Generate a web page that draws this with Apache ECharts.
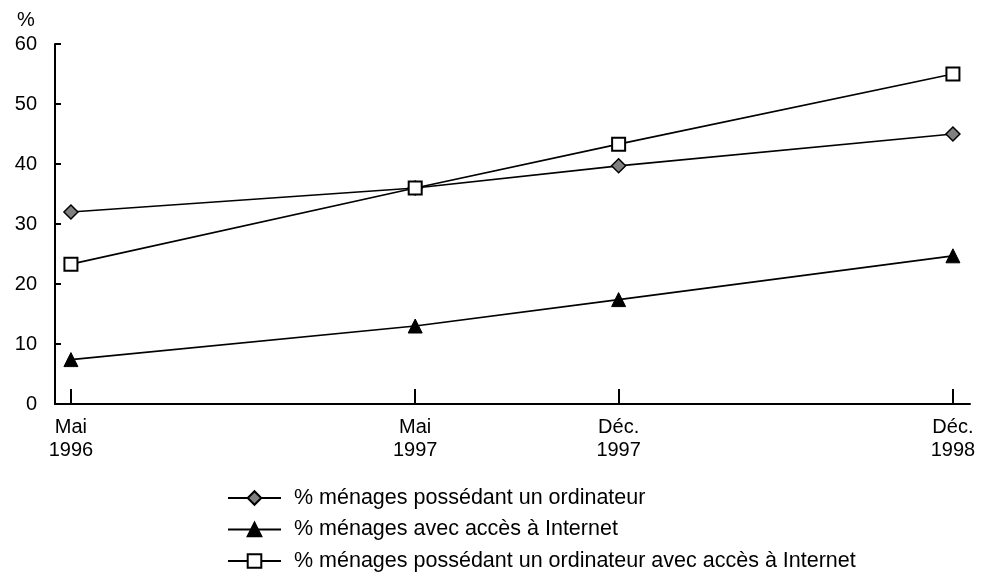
<!DOCTYPE html>
<html>
<head>
<meta charset="utf-8">
<script src="https://cdn.jsdelivr.net/npm/echarts@6/dist/echarts.min.js"></script>
<style>html,body{margin:0;padding:0;background:#fff}#c{width:989px;height:573px}</style>
</head>
<body>
<div id="c"></div>
<script>
// Positions in months since May 1996
const xVals = [0, 12.1, 19.25, 31];
const xLabels = ['Mai\n1996', 'Mai\n1997', 'Déc.\n1997', 'Déc.\n1998'];
const seriesNames = [
  '% ménages possédant un ordinateur',
  '% ménages avec accès à Internet',
  '% ménages possédant un ordinateur avec accès à Internet'
];
const ordinateur = [32, 36, 39.7, 45];
const internet = [7.4, 13, 17.4, 24.7];
const ordinateurInternet = [23.3, 36, 43.3, 55];

const font = '"Liberation Sans", Arial, sans-serif';
const pair = arr => arr.map((v, i) => [xVals[i], v]);

const chart = echarts.init(document.getElementById('c'));
chart.setOption({
  animation: false,
  backgroundColor: '#fff',
  textStyle: { fontFamily: font },
  title: { text: '%', left: 12, top: 5, textStyle: { fontFamily: font, fontSize: 20, fontWeight: 'normal', color: '#000' } },
  grid: { left: 55, right: 19, top: 44, bottom: 169, containLabel: false },
  xAxis: {
    type: 'value', min: -0.56, max: 31.6,
    splitLine: { show: false },
    axisLine: { onZero: false, lineStyle: { color: '#000', width: 2 } },
    axisTick: { show: true, inside: true, length: 15, customValues: xVals, lineStyle: { color: '#000', width: 2 } },
    axisLabel: {
      customValues: xVals,
      formatter: v => { const i = xVals.indexOf(v); return i >= 0 ? xLabels[i] : ''; },
      color: '#000', fontSize: 20, lineHeight: 23, margin: 12, fontFamily: font
    }
  },
  yAxis: {
    type: 'value', min: 0, max: 60, interval: 10,
    splitLine: { show: false },
    axisLine: { show: true, onZero: false, lineStyle: { color: '#000', width: 2 } },
    axisTick: { show: true, inside: true, length: 6, lineStyle: { color: '#000', width: 2 } },
    axisLabel: { color: '#000', fontSize: 20, margin: 18, fontFamily: font }
  },
  legend: {
    orient: 'vertical', left: 227, top: 487, padding: 0, height: 86,
    itemWidth: 53, itemHeight: 17, itemGap: 9.5,
    textStyle: { fontSize: 21.5, color: '#000', fontFamily: font, padding: [0, 0, 0, 8] },
    data: seriesNames
  },
  series: [
    {
      name: seriesNames[0], type: 'line', data: pair(ordinateur),
      symbol: 'diamond', symbolSize: 14,
      lineStyle: { color: '#000', width: 1.7 },
      itemStyle: { color: '#808080', borderColor: '#000', borderWidth: 1.5 }
    },
    {
      name: seriesNames[1], type: 'line', data: pair(internet),
      symbol: 'triangle', symbolSize: 14,
      lineStyle: { color: '#000', width: 1.7 },
      itemStyle: { color: '#000', borderColor: '#000', borderWidth: 1 }
    },
    {
      name: seriesNames[2], type: 'line', data: pair(ordinateurInternet),
      symbol: 'rect', symbolSize: 13,
      lineStyle: { color: '#000', width: 1.7 },
      itemStyle: { color: '#fff', borderColor: '#000', borderWidth: 2 }
    }
  ]
});
</script>
</body>
</html>
